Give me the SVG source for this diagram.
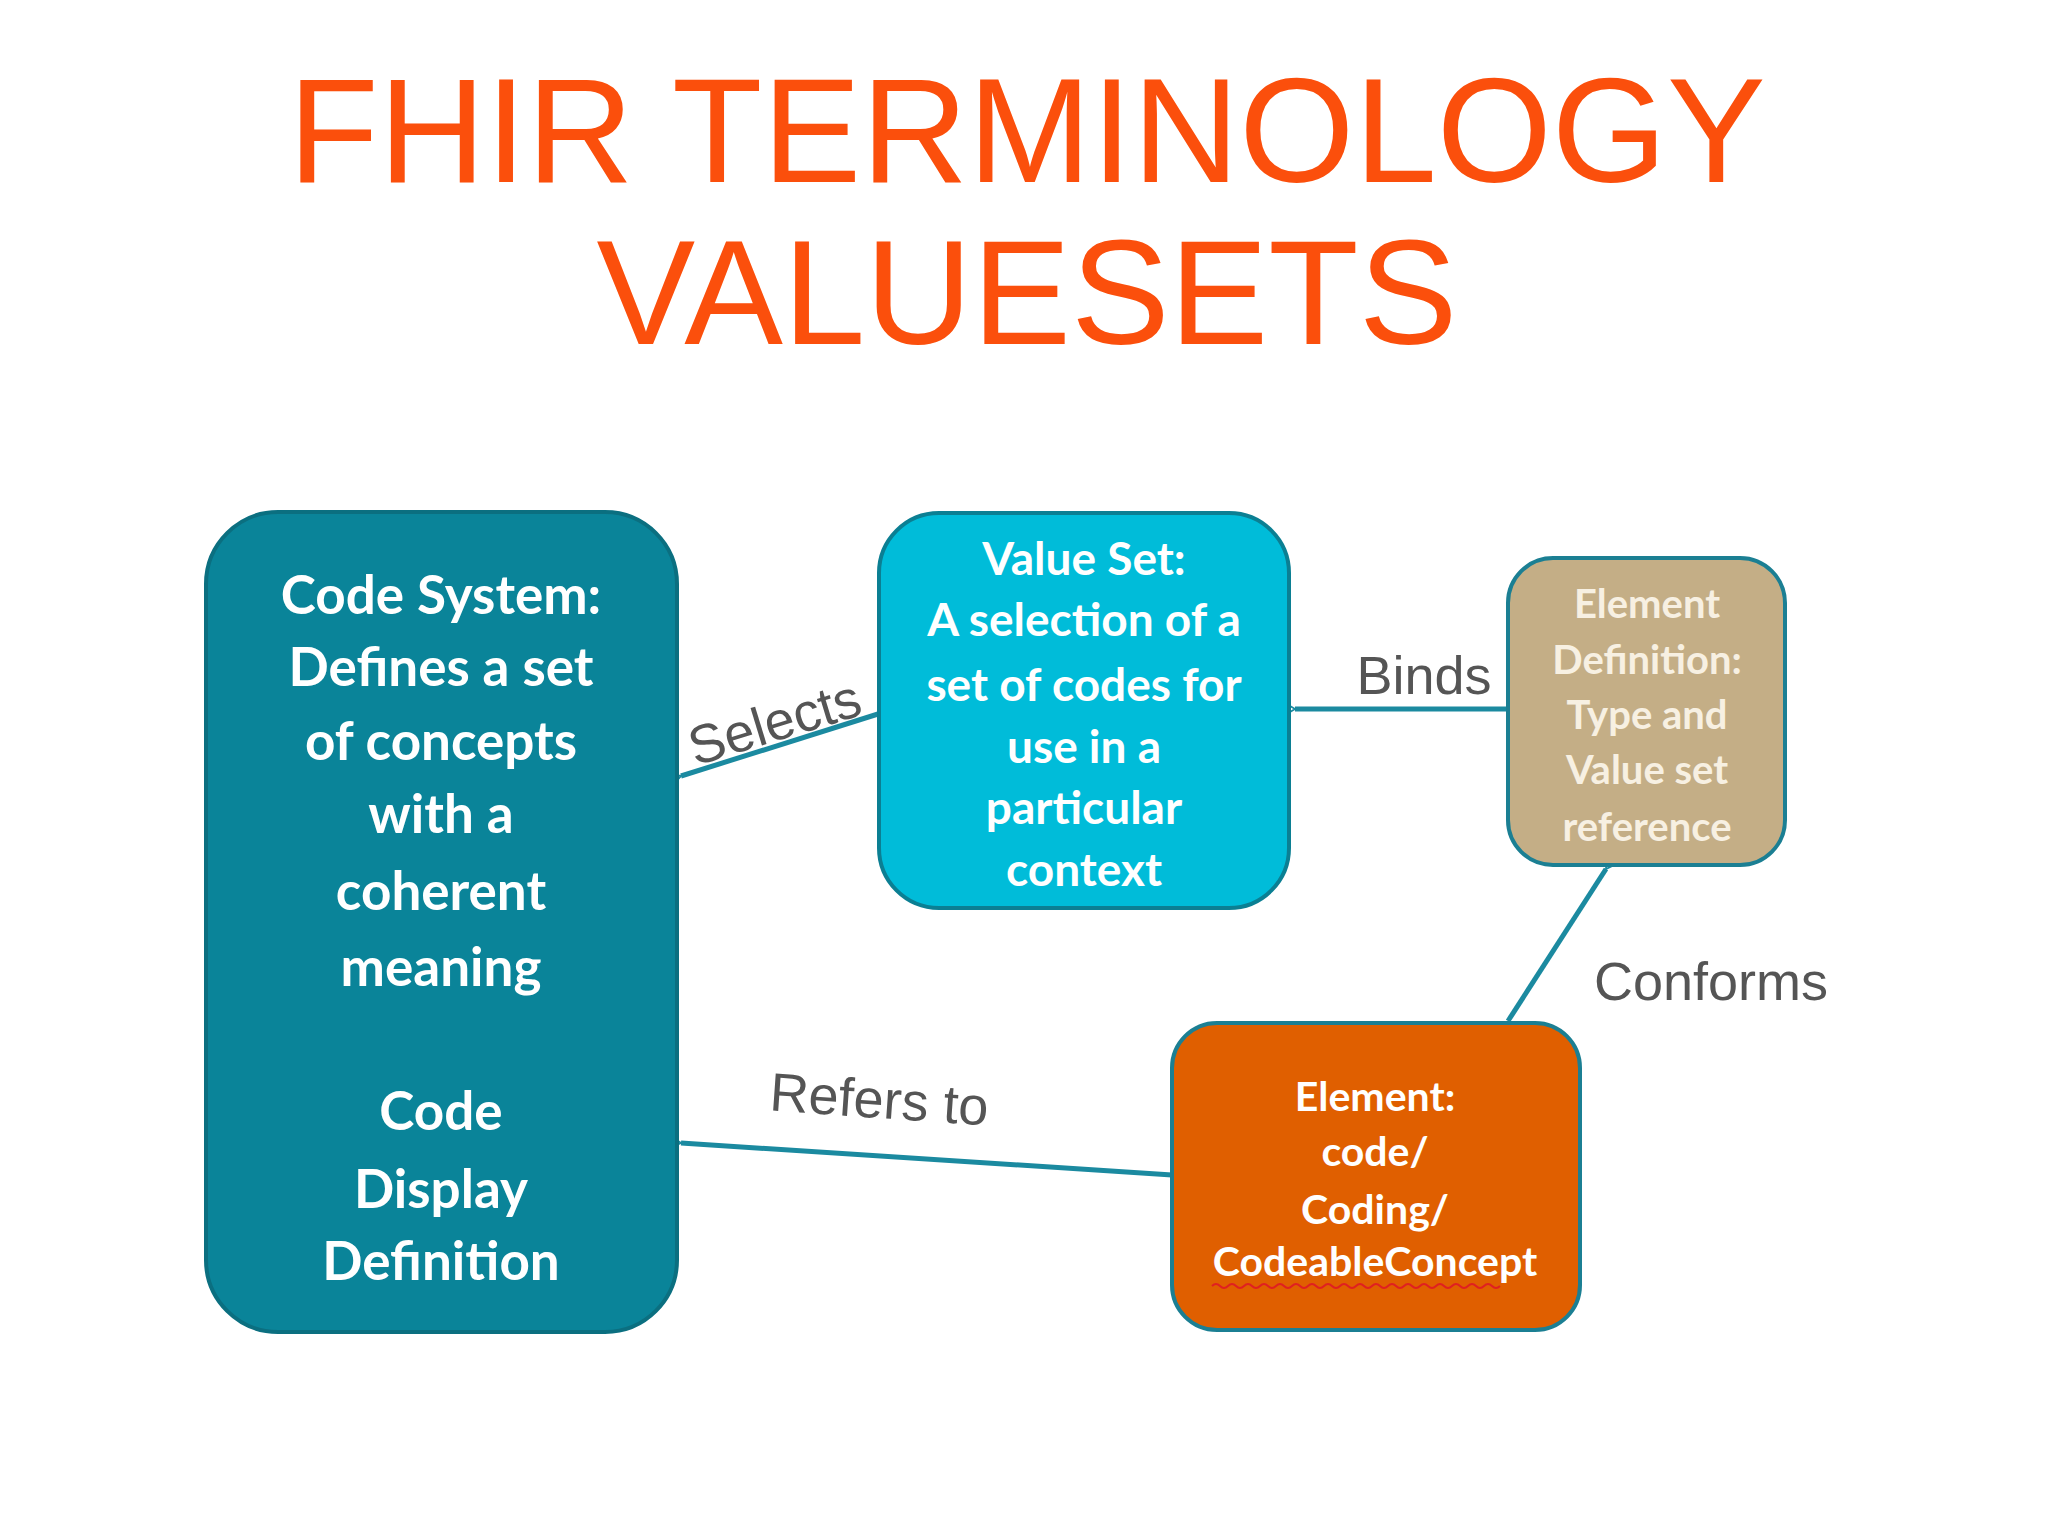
<svg xmlns="http://www.w3.org/2000/svg" width="2048" height="1536" viewBox="0 0 2048 1536">
<style>
.title{font-family:"Liberation Sans",Arial,sans-serif;font-size:148px;fill:#fb4f0c;text-anchor:middle}
.nt{font-family:Lato,"Open Sans",sans-serif;font-weight:bold;text-anchor:middle;fill:#fff}
.lbl{font-family:"Liberation Sans",Arial,sans-serif;font-size:54px;fill:#555;text-anchor:middle}
.conn{stroke:#1b8aa0;stroke-width:5;fill:none;marker-end:url(#arr)}
</style>
<defs>
<marker id="arr" viewBox="0 0 20 20" refX="2" refY="10" markerWidth="7" markerHeight="7" orient="auto" markerUnits="userSpaceOnUse" overflow="visible">
<path d="M22,-2 L2,10 L22,22" fill="none" stroke="#1b8aa0" stroke-width="5"/>
</marker>
</defs>
<rect width="2048" height="1536" fill="#fff"/>
<text class="title" x="1027" y="182">FHIR TERMINOLOGY</text>
<text class="title" x="1027" y="344">VALUESETS</text>
<g id="connectors">
<line class="conn" x1="878" y1="714" x2="681" y2="776"/>
<line class="conn" x1="1508" y1="709" x2="1295" y2="709"/>
<line class="conn" x1="1508" y1="1021" x2="1606" y2="869"/>
<line class="conn" x1="1172" y1="1175" x2="681" y2="1143"/>
<text class="lbl" transform="translate(780,740) rotate(-17)">Selects</text>
<text class="lbl" x="1424" y="694">Binds</text>
<text class="lbl" x="1711" y="1000">Conforms</text>
<text class="lbl" transform="translate(878,1118) rotate(4)">Refers to</text>
</g>
<g id="codesystem">
<rect x="206" y="512" width="471" height="820" rx="72" fill="#0a8499" stroke="#0b6f80" stroke-width="4"/>
<g class="nt" font-size="53">
<text x="441" y="614">Code System:</text>
<text x="441" y="686">Defines a set</text>
<text x="441" y="760">of concepts</text>
<text x="441" y="833">with a</text>
<text x="441" y="910">coherent</text>
<text x="441" y="986">meaning</text>
<text x="441" y="1130">Code</text>
<text x="441" y="1208">Display</text>
<text x="441" y="1280">Definition</text>
</g>
</g>
<g id="valueset">
<rect x="879" y="513" width="410" height="395" rx="60" fill="#00bcd9" stroke="#0b7f93" stroke-width="4"/>
<g class="nt" font-size="46">
<text x="1084" y="575">Value Set:</text>
<text x="1084" y="636">A selection of a</text>
<text x="1084" y="701">set of codes for</text>
<text x="1084" y="763">use in a</text>
<text x="1084" y="824">particular</text>
<text x="1084" y="886">context</text>
</g>
</g>
<g id="elementdef">
<rect x="1508" y="558" width="277" height="307" rx="45" fill="#c4ae86" stroke="#1b7f93" stroke-width="4"/>
<g class="nt" font-size="40" fill="#f7f0e2" style="fill:#f7f0e2">
<text x="1647" y="618">Element</text>
<text x="1647" y="674">Definition:</text>
<text x="1647" y="729">Type and</text>
<text x="1647" y="784">Value set</text>
<text x="1647" y="841">reference</text>
</g>
</g>
<g id="element">
<rect x="1172" y="1023" width="408" height="307" rx="45" fill="#e05f00" stroke="#1b7f93" stroke-width="4"/>
<g class="nt" font-size="41">
<text x="1375" y="1111">Element:</text>
<text x="1375" y="1166">code/</text>
<text x="1375" y="1224">Coding/</text>
<text x="1375" y="1276">CodeableConcept</text>
</g>
<path d="M1212,1286 q4,-4 8,0 t8,0 t8,0 t8,0 t8,0 t8,0 t8,0 t8,0 t8,0 t8,0 t8,0 t8,0 t8,0 t8,0 t8,0 t8,0 t8,0 t8,0 t8,0 t8,0 t8,0 t8,0 t8,0 t8,0 t8,0 t8,0 t8,0 t8,0 t8,0 t8,0 t8,0 t8,0 t8,0 t8,0 t8,0 t8,0" fill="none" stroke="#e02020" stroke-width="2"/>
</g>
</svg>
